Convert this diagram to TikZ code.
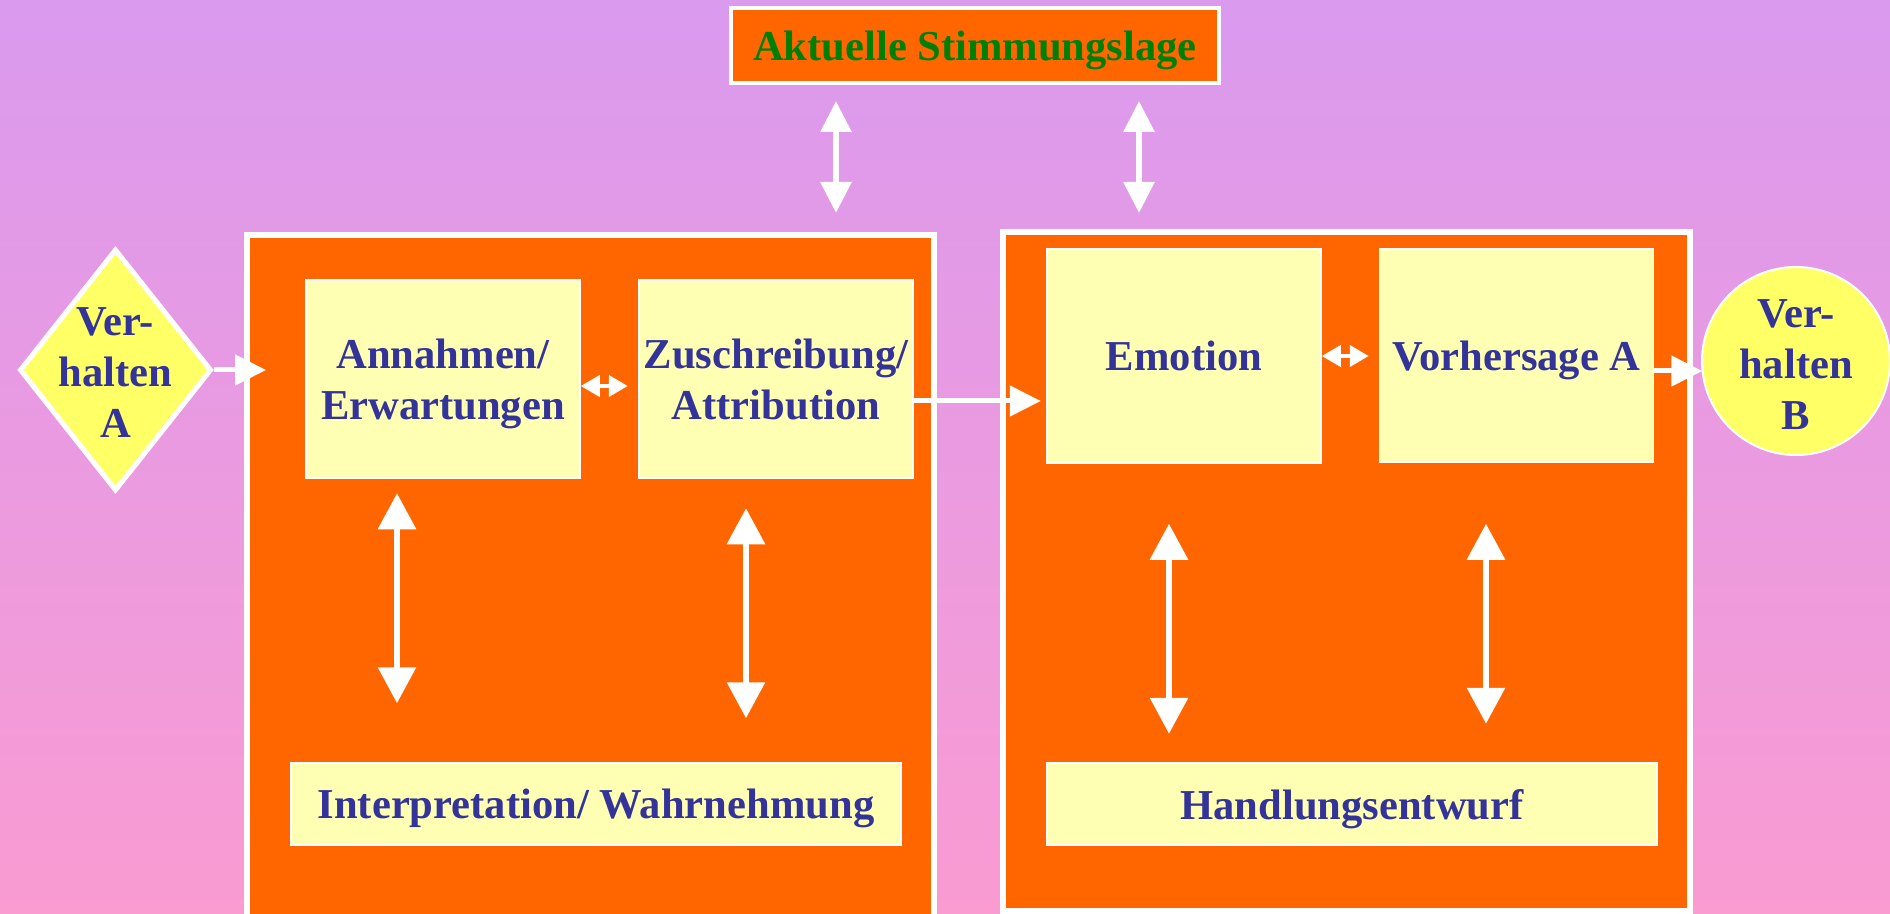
\documentclass[tikz,border=0pt]{standalone}
\usepackage{fontspec}
\setmainfont{Liberation Serif}
\usetikzlibrary{arrows.meta, shapes.geometric}

\definecolor{bgtop}{HTML}{DA9AEE}
\definecolor{bgbot}{HTML}{FA9BD2}
\definecolor{orng}{HTML}{FF6600}
\definecolor{pale}{HTML}{FFFFB3}
\definecolor{lemon}{HTML}{FFFF66}
\definecolor{ink}{HTML}{333399}
\definecolor{leaf}{HTML}{008000}

\begin{document}
\begin{tikzpicture}[x=0.5pt, y=-0.5pt,
   every node/.style = {font=\bfseries\fontsize{21.3}{25.5}\selectfont, text=ink, align=center},
   panel/.style = {draw=white, line width=3pt, fill=orng, inner sep=0pt},
   card/.style = {draw=white, line width=0.75pt, fill=pale, inner sep=2pt, text depth=0pt,
                  minimum width=137pt, minimum height=99pt},
   wide/.style = {card, minimum width=305pt, minimum height=41pt},
   dbl/.style = {white, line width=3pt, {Triangle[width=18.5pt,length=18pt]}-{Triangle[width=18.5pt,length=18pt]}},
   topdbl/.style = {white, line width=3pt, {Triangle[width=15pt,length=15.5pt]}-{Triangle[width=15pt,length=15.5pt]}},
   one/.style = {white, line width=2.5pt, -{Triangle[width=15pt,length=15.5pt]}},
   tiny/.style = {white, line width=2pt, {Triangle[width=10.5pt,length=9.5pt]}-{Triangle[width=10.5pt,length=9.5pt]}}]

   \useasboundingbox (0,0) rectangle (1890,914);
   \clip (0,0) rectangle (1890,914);
   \shade[top color=bgtop, bottom color=bgbot] (0,0) rectangle (1890,914);

   \node[panel, minimum width=343.75pt, minimum height=382.5pt] (left) at (590.25,617.5) {};
   \node[panel, minimum width=343.5pt, minimum height=339.5pt] (right) at (1346.5,571.5) {};
   \node[panel, line width=2pt, text=leaf, text depth=0pt, minimum width=244pt, minimum height=37.5pt] (mood) at (975,45.5) {Aktuelle Stimmungslage};

   \node[card] (ann) at (443,379) {Annahmen/\\Erwartungen};
   \node[card] (attr) at (776,379) {Zuschreibung/\\Attribution};
   \node[card, minimum height=107pt] (emo) at (1184,356) {Emotion};
   \node[card, minimum height=106.5pt] (pred) at (1516.5,355.5) {Vorhersage A};
   \node[wide] (interp) at (596,804) {Interpretation/ Wahrnehmung};
   \node[wide] (plan) at (1352,804) {Handlungsentwurf};

   \node[diamond, draw=white, line width=2.5pt, fill=lemon, inner sep=0pt, minimum width=96pt,
         minimum height=121pt, label={[yshift=-1.2pt]center:{Ver-\\halten\\A}}] (behA) at (115.5,370) {};
   \node[circle, draw=white, line width=1pt, fill=lemon, inner sep=0pt,
         minimum size=94pt, label={[yshift=-1.8pt]center:{Ver-\\halten\\B}}] (behB) at (1796,361) {};

   \draw[topdbl] ([shift={(-69.5pt,-8pt)}]mood.south) -- ++(0,-56pt);
   \draw[topdbl] ([shift={(82pt,-8pt)}]mood.south) -- ++(0,-56pt);

   \draw[dbl] ([shift={(-23pt,-7.25pt)}]ann.south) -- ++(0,-105pt);
   \draw[dbl] ([shift={(-15pt,-14.75pt)}]attr.south) -- ++(0,-105pt);
   \draw[dbl] ([shift={(-7.5pt,-30pt)}]emo.south) -- ++(0,-105pt);
   \draw[dbl] ([shift={(-15.25pt,-30.5pt)}]pred.south) -- ++(0,-100pt);

   \draw[one] (behA.east) -- ++(26pt,0);
   \draw[tiny] ([yshift=-3.5pt]ann.east) -- ++(23.5pt,0);
   \draw[one] ([yshift=-11pt]attr.east) -- ++(63.5pt,0);
   \draw[tiny] (emo.east) -- ++(23.5pt,0);
   \draw[one] ([yshift=-7.75pt]pred.east) -- ++(24pt,0);
\end{tikzpicture}
\end{document}
